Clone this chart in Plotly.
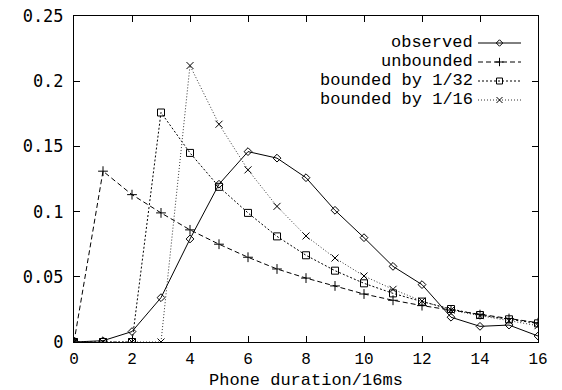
import plotly.graph_objects as go

durations = list(range(0, 17))
observed = [0.0, 0.001, 0.008, 0.034, 0.079, 0.121, 0.146, 0.141, 0.126, 0.101,
            0.080, 0.058, 0.044, 0.019, 0.012, 0.013, 0.0046]
unbounded = [0.0, 0.131, 0.113, 0.099, 0.086, 0.075, 0.065, 0.056, 0.049, 0.043,
             0.0368, 0.032, 0.0279, 0.0245, 0.021, 0.018, 0.0148]
bounded_32 = [0.0, 0.0, 0.0, 0.176, 0.145, 0.119, 0.099, 0.081, 0.0665, 0.0547,
              0.045, 0.0373, 0.031, 0.0253, 0.0207, 0.0174, 0.0143]
bounded_16 = [0.0, 0.0, 0.0, 0.0, 0.212, 0.167, 0.132, 0.104, 0.0813, 0.0644,
              0.0506, 0.0404, 0.0314, 0.0245, 0.0202, 0.0163, 0.0125]

names = ["observed", "unbounded", "bounded by 1/32", "bounded by 1/16"]
series = [observed, unbounded, bounded_32, bounded_16]
symbols = ["diamond-open", "cross-thin-open", "square-open", "x-thin-open"]
dashes = ["solid", "5px,3px", "2px,2px", "1px,2px"]
colors = ["black", "black", "black", "#333333"]
msizes = [6, 7, 7, 7]
x_title = "Phone duration/16ms"

W, H = 562, 390
L, R, T, B = 74, 24, 16, 48
MONO = "Liberation Mono"

fig = go.Figure()
for nm, ys, sym, dsh, col, ms in zip(names, series, symbols, dashes, colors, msizes):
    fig.add_trace(go.Scatter(
        x=durations, y=ys, mode="lines+markers", name=nm, showlegend=False,
        line=dict(color=col, width=1, dash=dsh),
        marker=dict(symbol=sym, size=ms, color="black", line=dict(width=1, color="black")),
    ))

# gnuplot-style key (text on left, sample on right) drawn on an overlay pixel axis
key_text_right = 474
key_x0, key_x1 = 478, 521
key_rows = [42, 61, 80, 99]
for nm, row, sym, dsh, col, ms in zip(names, key_rows, symbols, dashes, colors, msizes):
    fig.add_trace(go.Scatter(
        x=[key_x0, key_x1], y=[row + 1, row + 1], mode="lines", xaxis="x2", yaxis="y2",
        showlegend=False, hoverinfo="skip",
        line=dict(color=col, width=1, dash=dsh)))
    fig.add_trace(go.Scatter(
        x=[(key_x0 + key_x1) / 2], y=[row + 1], mode="markers", xaxis="x2", yaxis="y2",
        showlegend=False, hoverinfo="skip",
        marker=dict(symbol=sym, size=ms - 1, color="black", line=dict(width=1, color="black"))))
    fig.add_annotation(x=key_text_right, y=row, xref="x2", yref="y2", text=nm,
                       showarrow=False, xanchor="right", yanchor="middle", borderpad=0,
                       font=dict(family=MONO, size=17, color="black"))

# x-axis title placed below tick labels
fig.add_annotation(x=0.5, y=(H - B - 380) / (H - T - B), xref="paper", yref="paper",
                   text=x_title, showarrow=False, xanchor="center", yanchor="middle",
                   borderpad=0, font=dict(family=MONO, size=17, color="black"))

fig.update_layout(
    width=W, height=H, margin=dict(l=L, r=R, t=T, b=B),
    paper_bgcolor="white", plot_bgcolor="white", showlegend=False,
    xaxis=dict(range=[0, 16], tickvals=list(range(0, 17, 2)), ticks="inside", ticklen=6,
               showline=True, mirror="ticks", linecolor="black", linewidth=1,
               tickcolor="black", showgrid=False, zeroline=False, ticklabelstandoff=2,
               automargin=False,
               tickfont=dict(family=MONO, size=16, color="black")),
    yaxis=dict(range=[0, 0.25], tickvals=[0, 0.05, 0.1, 0.15, 0.2, 0.25],
               ticktext=["0", "0.05", "0.1", "0.15", "0.2", "0.25"],
               ticks="inside", ticklen=6, showline=True, mirror="ticks",
               linecolor="black", linewidth=1, tickcolor="black", showgrid=False,
               zeroline=False, ticklabelstandoff=6, automargin=False,
               tickfont=dict(family="DejaVu Sans Mono", size=17, color="black")),
    xaxis2=dict(overlaying="x", range=[L, W - R], visible=False, fixedrange=True),
    yaxis2=dict(overlaying="y", range=[H - B, T], visible=False, fixedrange=True),
)

fig.write_html("out.html")
